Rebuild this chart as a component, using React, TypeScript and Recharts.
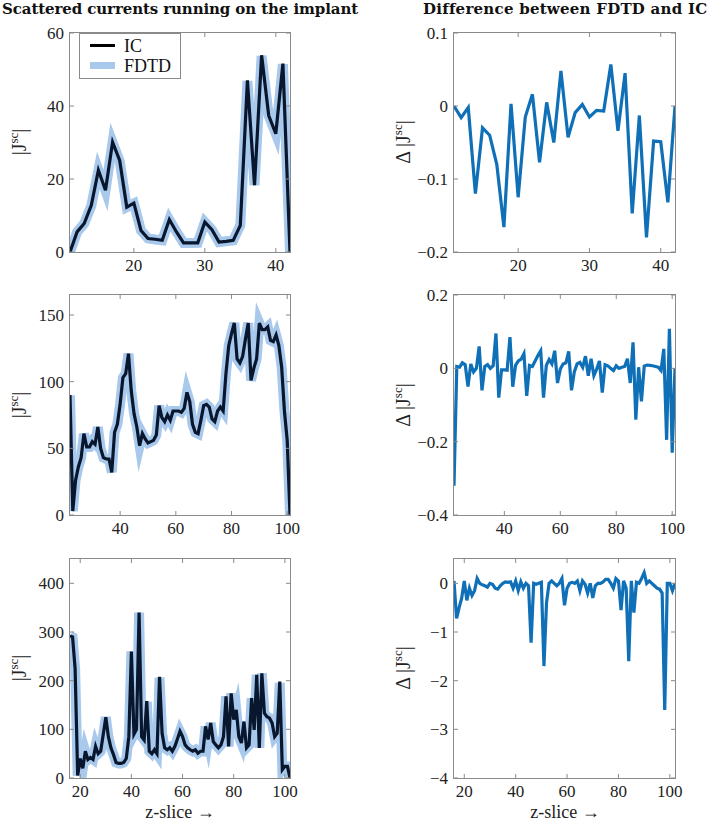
import React from 'react';
import { LineChart, Line, XAxis, YAxis } from 'recharts';

// z-slice indices for each row
const slices = (from: number, to: number) => {
  const out: number[] = [];
  for (let z = from; z <= to; z++) out.push(z);
  return out;
};
const topSlices = slices(11, 42);
const midSlices = slices(22, 101);
const botSlices = slices(16, 102);

// |J^sc| from IC
const topIC = [0, 5.5, 7.8, 12.8, 22.4, 16.9, 30.1, 25.1, 12.3, 13.4, 5.9, 3.7, 3.5, 3.2, 8.9, 5.5, 2.5, 2.5, 2.5, 8.2, 6.1, 2.7, 2.9, 3.2, 7.3, 47, 18.3, 53.9, 37.4, 32.4, 51.6, 0];
const midIC = [90, 3, 26, 36, 43, 61, 51, 51, 55, 53, 66, 50, 43, 42, 42, 32, 62, 68, 83, 103, 106, 121, 93, 76, 66, 52, 61, 57, 54, 55, 56, 60, 82, 73, 70, 75, 71, 78, 78, 78, 77, 80, 92, 85, 68, 62, 61, 71, 82, 83, 81, 72, 70, 78, 81, 78, 106, 127, 136, 144, 117, 114, 119, 132, 144, 101, 110, 117, 144, 139, 139, 141, 131, 130, 135, 127, 111, 78, 56, 0];
const botIC = [292, 290, 225, 5, 40, 20, 55, 38, 42, 38, 65, 50, 55, 90, 125, 85, 62, 48, 32, 30, 30, 32, 40, 85, 260, 90, 100, 340, 85, 78, 158, 55, 50, 58, 50, 208, 92, 62, 58, 62, 55, 65, 80, 96, 85, 68, 62, 58, 55, 58, 51, 55, 55, 106, 79, 113, 75, 68, 62, 68, 85, 168, 65, 174, 120, 140, 85, 72, 116, 62, 68, 164, 99, 212, 62, 215, 133, 126, 123, 113, 85, 92, 198, 17, 24, 24, 0];

// difference FDTD - IC
const topDiff = [0, -0.016, -0.002, -0.12, -0.03, -0.04, -0.08, -0.166, 0.003, -0.125, -0.015, 0.016, -0.077, 0.005, -0.05, 0.048, -0.043, -0.009, 0.002, -0.015, -0.006, -0.007, 0.057, -0.034, 0.045, -0.147, -0.013, -0.18, -0.048, -0.049, -0.132, 0];
const midDiff = [-0.32, 0.005, 0.003, 0.015, 0.01, -0.05, 0.012, -0.01, 0, 0.06, -0.06, 0.005, 0.01, 0, 0.007, 0.095, -0.08, -0.004, -0.004, -0.005, 0.085, -0.05, 0.008, 0.02, 0.025, 0.04, -0.075, 0.008, 0.005, 0.02, 0.035, 0.048, -0.08, 0.008, 0.024, 0.012, 0.048, -0.04, -0.002, 0.012, 0.015, 0.046, -0.06, -0.01, 0.012, 0.016, 0.003, 0.033, -0.02, 0.026, -0.02, -0.002, 0.02, -0.066, 0.01, 0.007, 0, -0.006, 0.007, 0, 0.003, 0.005, 0.026, -0.04, 0.071, -0.14, 0.003, -0.09, 0.006, 0.009, 0.008, 0.007, 0.005, 0.003, -0.006, 0.053, -0.195, 0.108, -0.23, 0];
const botDiff = [0.05, -0.72, -0.5, -0.3, 0.05, -0.35, -0.1, -0.25, -0.15, 0.1, 0, -0.03, -0.05, -0.08, 0, -0.02, -0.1, -0.12, -0.05, 0, 0.03, 0.02, 0.03, -0.1, 0.05, -0.15, 0.03, -0.1, 0, -0.05, -1.22, 0, -0.02, 0, 0.02, -1.7, -0.4, 0, 0.05, 0, -0.05, 0, 0.1, -0.45, -0.1, 0, 0.02, 0, 0.05, -0.15, 0.05, -0.02, -0.2, 0, -0.3, -0.05, 0, 0, 0.03, 0.08, 0.08, 0, -0.1, 0.1, 0.05, -0.55, 0.05, -0.1, -1.6, 0.05, -0.6, 0.02, 0, 0.1, 0.22, 0, 0.05, 0, -0.05, -0.1, -0.12, -0.2, -2.6, 0, 0, -0.15, 0];

// axis ticks
const topXTicks = [20, 30, 40];
const midXTicks = [40, 60, 80, 100];
const botXTicks = [20, 40, 60, 80, 100];
const topICTicks = [0, 20, 40, 60];
const midICTicks = [0, 50, 100, 150];
const botICTicks = [0, 100, 200, 300, 400];
const topDiffTicks = [-0.2, -0.1, 0, 0.1];
const midDiffTicks = [-0.4, -0.2, 0, 0.2];
const botDiffTicks = [-4, -3, -2, -1, 0];

const build = (z: number[], ic: number[], diff: number[]) =>
  z.map((s, i) => ({ z: s, ic: ic[i], fdtd: ic[i] + diff[i], diff: diff[i] }));

const topData = build(topSlices, topIC, topDiff);
const midData = build(midSlices, midIC, midDiff);
const botData = build(botSlices, botIC, botDiff);

const GRAY = '#8a8a8a';
const IC_COLOR = '#08172e';
const FDTD_COLOR = '#a8c8ec';
const DIFF_COLOR = '#0f70b8';
const SERIF = 'Liberation Serif, Times New Roman, Times, serif';
const TOP_PAD = 10;
const LEFT_PAD = 60;

const fmt = (v: number) => (v < 0 ? '\u2212' + String(Math.abs(v)) : String(v));

type PanelProps = {
  left: number;
  top: number;
  w: number;
  h: number;
  data: any[];
  xDomain: [number, number];
  xTicks: number[];
  yDomain: [number, number];
  yTicks: number[];
  diff?: boolean;
};

const Panel = ({ left, top, w, h, data, xDomain, xTicks, yDomain, yTicks, diff }: PanelProps) => {
  const XTick = (p: any) => (
    <g>
      <line x1={p.x} x2={p.x} y1={TOP_PAD + h} y2={TOP_PAD + h - 4} stroke={GRAY} />
      <line x1={p.x} x2={p.x} y1={TOP_PAD} y2={TOP_PAD + 4} stroke={GRAY} />
      <text x={p.x} y={TOP_PAD + h + 19} textAnchor="middle" style={{ fontFamily: SERIF }} fontSize={17} fill="#222">
        {fmt(p.payload.value)}
      </text>
    </g>
  );
  const YTick = (p: any) => (
    <g>
      <line x1={LEFT_PAD} x2={LEFT_PAD + 4} y1={p.y} y2={p.y} stroke={GRAY} />
      <line x1={LEFT_PAD + w} x2={LEFT_PAD + w - 4} y1={p.y} y2={p.y} stroke={GRAY} />
      <text x={LEFT_PAD - 6} y={p.y + 6} textAnchor="end" style={{ fontFamily: SERIF }} fontSize={17} fill="#222">
        {fmt(p.payload.value)}
      </text>
    </g>
  );
  return (
    <div style={{ position: 'absolute', left: left - LEFT_PAD, top: top - TOP_PAD }}>
      <LineChart
        width={w + LEFT_PAD + 14}
        height={h + TOP_PAD + 30}
        data={data}
        margin={{ top: TOP_PAD, right: 14, bottom: 0, left: 0 }}
      >
        <XAxis
          dataKey="z"
          type="number"
          domain={xDomain}
          ticks={xTicks}
          allowDataOverflow
          axisLine={false}
          tickLine={false}
          height={30}
          tick={XTick}
          interval={0}
        />
        <YAxis
          type="number"
          domain={yDomain}
          ticks={yTicks}
          allowDataOverflow
          axisLine={false}
          tickLine={false}
          width={LEFT_PAD}
          tick={YTick}
          interval={0}
        />
        {diff ? (
          <Line dataKey="diff" type="linear" stroke={DIFF_COLOR} strokeWidth={3.2} dot={false} isAnimationActive={false} strokeLinejoin="miter" />
        ) : null}
        {!diff ? (
          <Line dataKey="fdtd" type="linear" stroke={FDTD_COLOR} strokeWidth={10} dot={false} isAnimationActive={false} strokeLinejoin="miter" strokeMiterlimit={6} />
        ) : null}
        {!diff ? (
          <Line dataKey="ic" type="linear" stroke={IC_COLOR} strokeWidth={3.2} dot={false} isAnimationActive={false} strokeLinejoin="miter" />
        ) : null}
      </LineChart>
      <div
        style={{
          position: 'absolute',
          left: LEFT_PAD - 1,
          top: TOP_PAD - 1,
          width: w,
          height: h,
          border: `1px solid ${GRAY}`,
          pointerEvents: 'none',
        }}
      />
    </div>
  );
};

const YLabel = ({ x, y, delta }: { x: number; y: number; delta?: boolean }) => (
  <div
    style={{
      position: 'absolute',
      left: x,
      top: y,
      transform: 'translate(-50%, -50%) rotate(-90deg)',
      fontFamily: SERIF,
      fontSize: 20,
      whiteSpace: 'nowrap',
      color: '#222',
      lineHeight: 1,
    }}
  >
    {delta ? '\u0394 ' : ''}|J<sup style={{ fontSize: 13 }}>sc</sup>|
  </div>
);

const XLabel = ({ x }: { x: number }) => (
  <div
    style={{
      position: 'absolute',
      left: x,
      top: 812,
      transform: 'translate(-50%, -50%)',
      fontFamily: SERIF,
      fontSize: 18,
      whiteSpace: 'nowrap',
      color: '#222',
    }}
  >
    z-slice {'\u2192'}
  </div>
);

const titleStyle: React.CSSProperties = {
  position: 'absolute',
  top: 0,
  fontFamily: 'DejaVu Serif, serif',
  fontWeight: 700,
  fontSize: 15,
  whiteSpace: 'nowrap',
  color: '#111',
};

export default function App() {
  return (
    <div style={{ position: 'relative', width: 709, height: 822, background: '#fff', overflow: 'hidden' }}>
      <style>{'body{margin:0}'}</style>
      <div style={{ ...titleStyle, left: 2, letterSpacing: -0.1 }}>Scattered currents running on the implant</div>
      <div style={{ ...titleStyle, left: 423, letterSpacing: 0.25 }}>Difference between FDTD and IC</div>

      <Panel left={70} top={33} w={220} h={219} data={topData} xDomain={[11, 42]} xTicks={topXTicks} yDomain={[0, 60]} yTicks={topICTicks} />
      <Panel left={454} top={33} w={221} h={219} data={topData} xDomain={[11, 42]} xTicks={topXTicks} yDomain={[-0.2, 0.1]} yTicks={topDiffTicks} diff />
      <Panel left={70} top={295} w={220} h={220} data={midData} xDomain={[22, 101]} xTicks={midXTicks} yDomain={[0, 165]} yTicks={midICTicks} />
      <Panel left={454} top={295} w={221} h={220} data={midData} xDomain={[22, 101]} xTicks={midXTicks} yDomain={[-0.4, 0.2]} yTicks={midDiffTicks} diff />
      <Panel left={70} top={559} w={220} h={219} data={botData} xDomain={[16, 102]} xTicks={botXTicks} yDomain={[0, 450]} yTicks={botICTicks} />
      <Panel left={454} top={559} w={221} h={219} data={botData} xDomain={[16, 102]} xTicks={botXTicks} yDomain={[-4, 0.5]} yTicks={botDiffTicks} diff />

      {/* legend inside the first panel */}
      <div
        style={{
          position: 'absolute',
          left: 79,
          top: 33,
          width: 100,
          height: 44,
          border: `1px solid ${GRAY}`,
          background: '#fff',
          fontFamily: SERIF,
          fontSize: 18,
          color: '#111',
          lineHeight: 1,
        }}
      >
        <div style={{ position: 'absolute', left: 10, top: 10, width: 25, height: 3, background: '#000' }} />
        <div style={{ position: 'absolute', left: 44, top: 3 }}>IC</div>
        <div style={{ position: 'absolute', left: 10, top: 28, width: 25, height: 7, background: FDTD_COLOR }} />
        <div style={{ position: 'absolute', left: 44, top: 23 }}>FDTD</div>
      </div>

      <YLabel x={18} y={142} />
      <YLabel x={18} y={405} />
      <YLabel x={18} y={668} />
      <YLabel x={402} y={142} delta />
      <YLabel x={402} y={405} delta />
      <YLabel x={402} y={668} delta />

      <XLabel x={180} />
      <XLabel x={565} />
    </div>
  );
}
